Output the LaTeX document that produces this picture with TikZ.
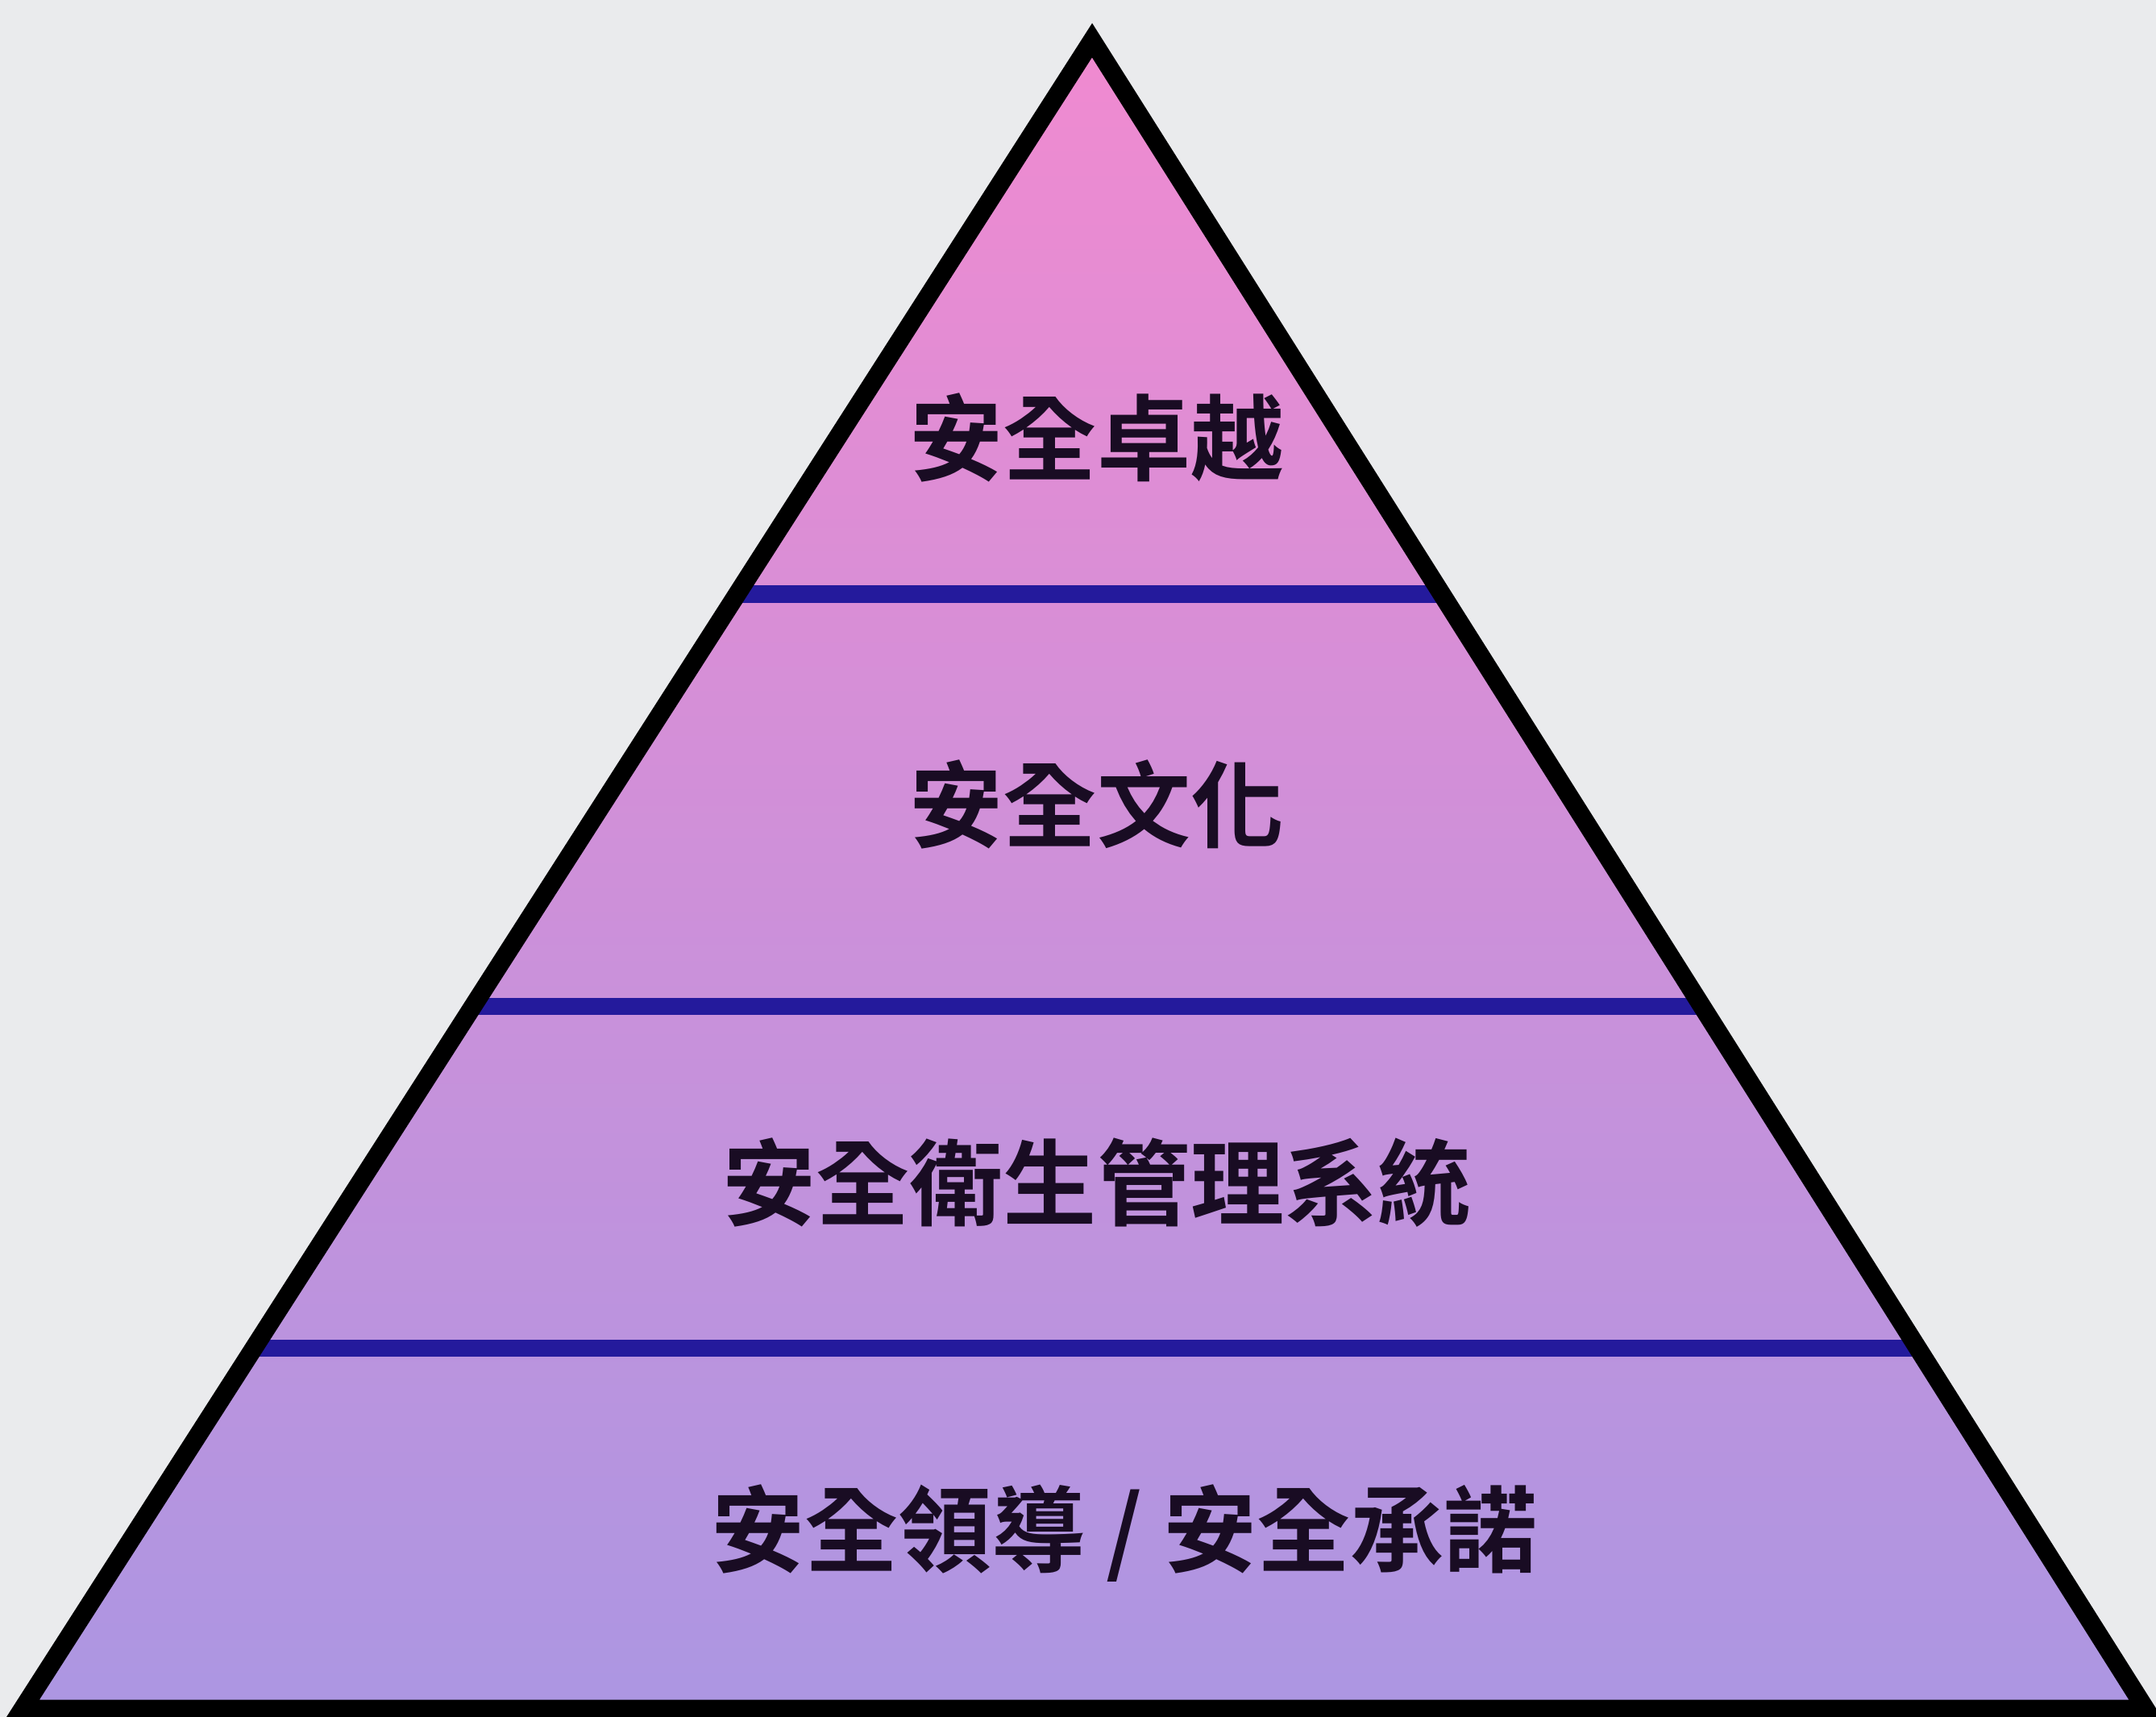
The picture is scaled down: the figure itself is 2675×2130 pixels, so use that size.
\documentclass[tikz,border=0pt]{standalone}
\usepackage{fontspec}
\setmainfont{Noto Sans CJK TC}[BoldFont=* Bold]
\usetikzlibrary{calc}

\definecolor{paper}{RGB}{234,235,237}
\definecolor{toppink}{RGB}{240,138,208}
\definecolor{midpink}{RGB}{214,150,216}
\definecolor{lowlilac}{RGB}{172,150,226}
\definecolor{bandblue}{RGB}{36,26,156}
\definecolor{ink}{RGB}{25,12,35}

\begin{document}
\begin{tikzpicture}[x=0.01cm,y=-0.01cm,
  level/.style={font=\fontsize{33}{40}\selectfont\bfseries,text=ink,inner sep=0pt},
  band/.style={bandblue,line width=6pt}]
\fill[paper] (0,0) rectangle (2675,2130);
\useasboundingbox (0,0) rectangle (2675,2130);

\coordinate (apex) at (1355,50);
\coordinate (bl) at (28,2120);
\coordinate (br) at (2662,2120);

\shade[top color=toppink,middle color=midpink,bottom color=lowlilac]
  (apex) -- (bl) -- (br) -- cycle;

% layer borders
\coordinate (l1) at ($(apex)!0.3319!(bl)$);
\coordinate (r1) at ($(apex)!0.3319!(br)$);
\coordinate (l2) at ($(apex)!0.5792!(bl)$);
\coordinate (r2) at ($(apex)!0.5792!(br)$);
\coordinate (l3) at ($(apex)!0.7836!(bl)$);
\coordinate (r3) at ($(apex)!0.7836!(br)$);
\draw[band] (l1) -- (r1);
\draw[band] (l2) -- (r2);
\draw[band] (l3) -- (r3);

\draw[black,line width=6.5pt,line join=miter] (apex) -- (bl) -- (br) -- cycle;

\node[level] at (1361,543) (excel) {安全卓越};
\node[level] at (1361,998) (culture) {安全文化};
\node[level] at (1361,1467) (system) {安全衛生管理系統};
\node[level] at (1395,1902) (lead) {安全領導 / 安全承諾};
\end{tikzpicture}
\end{document}
